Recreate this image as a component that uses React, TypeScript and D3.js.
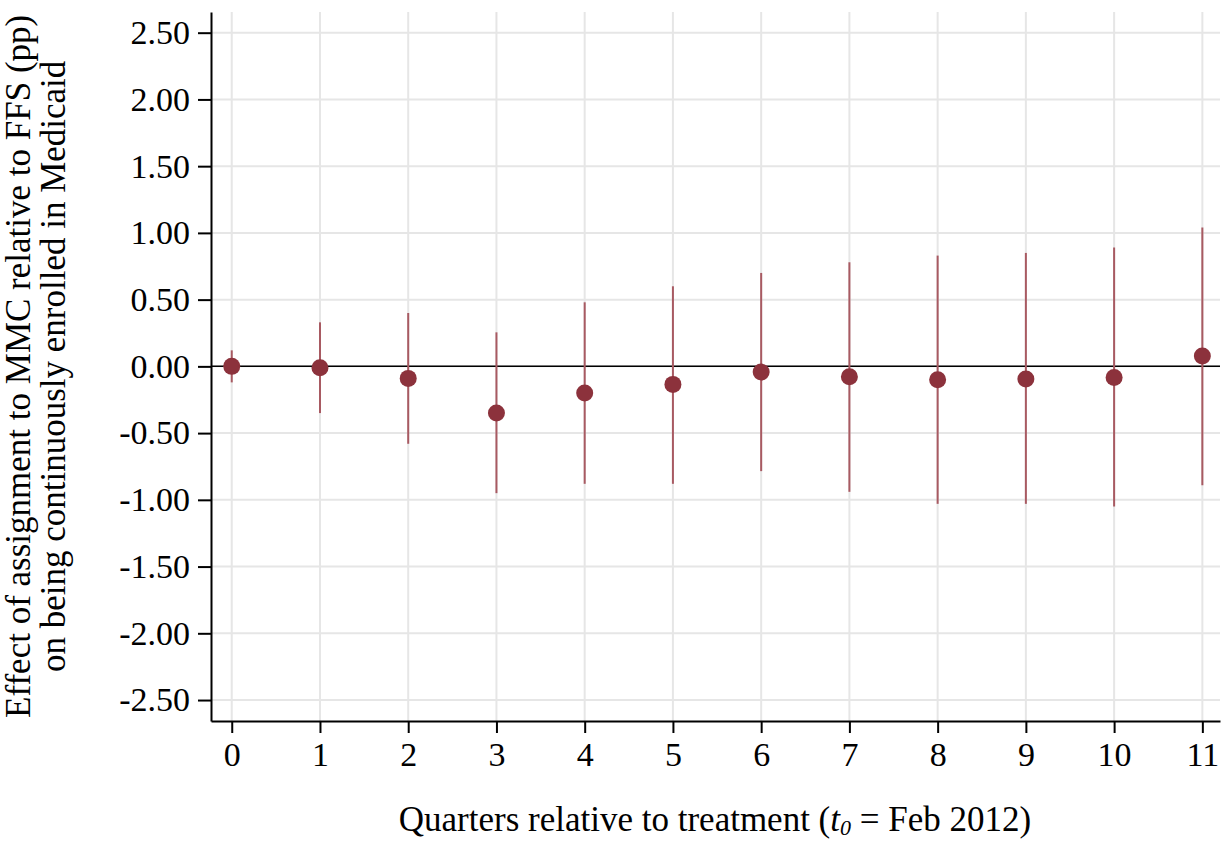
import * as d3 from 'd3';
import React, { useRef, useEffect } from 'react';

// quarters relative to treatment
const quarters = [0, 1, 2, 3, 4, 5, 6, 7, 8, 9, 10, 11];
// point estimates (pp)
const estimates = [0.0, -0.01, -0.09, -0.35, -0.2, -0.135, -0.043, -0.078, -0.1, -0.095, -0.083, 0.077];
// confidence interval bounds
const ciLow = [-0.12, -0.35, -0.58, -0.95, -0.88, -0.88, -0.785, -0.94, -1.03, -1.03, -1.05, -0.89];
const ciHigh = [0.12, 0.33, 0.4, 0.255, 0.48, 0.6, 0.7, 0.78, 0.83, 0.85, 0.89, 1.04];
const yTicks = [2.5, 2, 1.5, 1, 0.5, 0, -0.5, -1, -1.5, -2, -2.5];

const WIDTH = 1225;
const HEIGHT = 842;

function CoefPlot() {
    const ref = useRef<SVGSVGElement>(null);

    useEffect(() => {
        const svg = d3.select(ref.current);
        svg.selectAll('*').remove();

        const margin = { top: 12, right: 5, bottom: 121, left: 211 };
        const font = '"Liberation Serif", "Times New Roman", serif';

        // Scale
        const x = d3.scaleLinear()
            .domain([-0.235, 11.2])
            .range([margin.left, WIDTH - margin.right]);
        const y = d3.scaleLinear()
            .domain([-2.657, 2.655])
            .range([HEIGHT - margin.bottom, margin.top]);

        const data = quarters.map((q, i) => ({ q, est: estimates[i], lo: ciLow[i], hi: ciHigh[i] }));

        // grid
        const grid = svg.append('g').attr('class', 'grid');
        grid.selectAll('.hgrid')
            .data(yTicks)
            .enter()
            .append('line')
            .attr('x1', margin.left)
            .attr('x2', WIDTH - margin.right)
            .attr('y1', d => y(d))
            .attr('y2', d => y(d))
            .attr('stroke', '#e6e6e6')
            .attr('stroke-width', 2);
        grid.selectAll('.vgrid')
            .data(quarters)
            .enter()
            .append('line')
            .attr('x1', d => x(d))
            .attr('x2', d => x(d))
            .attr('y1', margin.top)
            .attr('y2', HEIGHT - margin.bottom)
            .attr('stroke', '#e6e6e6')
            .attr('stroke-width', 2);

        // zero line
        svg.append('line')
            .attr('x1', margin.left)
            .attr('x2', WIDTH - margin.right)
            .attr('y1', y(0))
            .attr('y2', y(0))
            .attr('stroke', '#000')
            .attr('stroke-width', 1.5);

        // DRAW AXES
        const yAxis = d3.axisLeft(y)
            .tickValues(yTicks)
            .tickSize(13)
            .tickSizeOuter(0)
            .tickPadding(8)
            .tickFormat(d => d3.format('.2f')(d as number).replace('−', '-'));
        const yAxisDraw = svg.append('g')
            .attr('transform', `translate(${margin.left},0)`)
            .call(yAxis);
        yAxisDraw.select('.domain').attr('stroke-width', 2);
        yAxisDraw.selectAll('line').attr('stroke-width', 2);
        yAxisDraw.selectAll('text')
            .style('font-family', font)
            .style('font-size', '34px')
            .attr('fill', '#000');

        const xAxis = d3.axisBottom(x)
            .tickValues(quarters)
            .tickSize(12)
            .tickSizeOuter(0)
            .tickPadding(9)
            .tickFormat(d3.format('d'));
        const xAxisDraw = svg.append('g')
            .attr('transform', `translate(0,${HEIGHT - margin.bottom})`)
            .call(xAxis);
        xAxisDraw.select('.domain').attr('stroke-width', 2);
        xAxisDraw.selectAll('line').attr('stroke-width', 2);
        xAxisDraw.selectAll('text')
            .style('font-family', font)
            .style('font-size', '34px')
            .attr('fill', '#000');

        // DRAW CHART
        svg.selectAll('.ci')
            .data(data)
            .enter()
            .append('line')
            .attr('class', 'ci')
            .attr('x1', d => x(d.q))
            .attr('x2', d => x(d.q))
            .attr('y1', d => y(d.lo))
            .attr('y2', d => y(d.hi))
            .attr('stroke', '#a85a62')
            .attr('stroke-width', 2);

        svg.selectAll('.pt')
            .data(data)
            .enter()
            .append('circle')
            .attr('class', 'pt')
            .attr('cx', d => x(d.q))
            .attr('cy', d => y(d.est))
            .attr('r', 8.5)
            .attr('fill', '#8c323c');

        // axis titles
        const xTitle = svg.append('text')
            .attr('x', 715)
            .attr('y', 831)
            .attr('text-anchor', 'middle')
            .style('font-family', font)
            .style('font-size', '35px');
        xTitle.append('tspan').text('Quarters relative to treatment (');
        xTitle.append('tspan').text('t').style('font-style', 'italic');
        xTitle.append('tspan').text('0').style('font-style', 'italic')
            .style('font-size', '22px').attr('dy', 4);
        xTitle.append('tspan').text(' = Feb 2012)').attr('dy', -4);

        const yTitle = svg.append('text')
            .attr('transform', `translate(0,${y(0)}) rotate(-90)`)
            .attr('text-anchor', 'middle')
            .style('font-family', font)
            .style('font-size', '35px');
        yTitle.append('tspan').attr('x', 0).attr('y', 30)
            .text('Effect of assignment to MMC relative to FFS (pp)');
        yTitle.append('tspan').attr('x', 0).attr('y', 65)
            .text('on being continuously enrolled in Medicaid');
    }, []);

    return (
        <svg ref={ref} width={WIDTH} height={HEIGHT}
            style={{ position: 'absolute', left: 0, top: 0, background: '#fff' }} />
    );
}

export default function App() {
    return <CoefPlot />;
}
